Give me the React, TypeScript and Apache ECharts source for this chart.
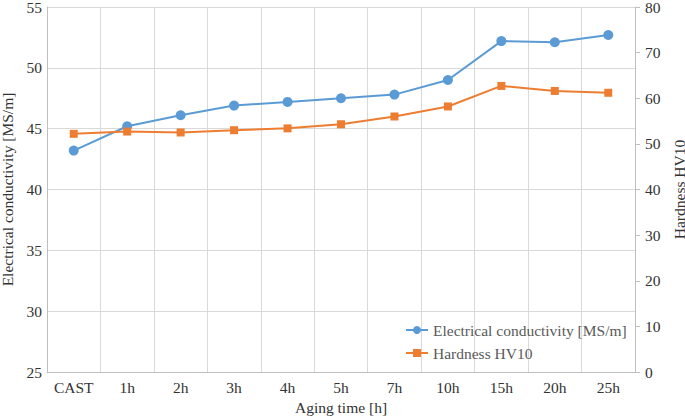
import React, { useEffect, useRef } from "react";
import * as echarts from "echarts";

const categories = ["CAST", "1h", "2h", "3h", "4h", "5h", "7h", "10h", "15h", "20h", "25h"];
const conductivity = [43.2, 45.2, 46.1, 46.9, 47.2, 47.5, 47.8, 49.0, 52.2, 52.1, 52.7];
const hardness = [52.2, 52.7, 52.5, 53.0, 53.4, 54.3, 56.0, 58.2, 62.7, 61.6, 61.2];
const condName = "Electrical conductivity [MS/m]";
const hardName = "Hardness HV10";

const FONT = "Liberation Serif";
const FS = 15.5;
const TXT = "#333333";

export default function App() {
  const ref = useRef<HTMLDivElement>(null);
  useEffect(() => {
    if (!ref.current) return;
    const chart = echarts.init(ref.current, undefined, { renderer: "svg" });
    chart.setOption({
      animation: false,
      textStyle: { fontFamily: FONT },
      grid: { left: 47, right: 50, top: 7, bottom: 46, containLabel: false, outerBoundsMode: "none" },
      legend: {
        orient: "vertical",
        left: 405,
        top: 322,
        padding: 0,
        itemGap: 7,
        itemWidth: 22,
        itemHeight: 10,
        textStyle: { fontFamily: FONT, fontSize: FS, color: "#595959", lineHeight: 16 },
        data: [condName, hardName],
      },
      xAxis: {
        type: "category",
        data: categories,
        boundaryGap: true,
        name: "Aging time [h]",
        nameLocation: "middle",
        nameGap: 27,
        nameTextStyle: { fontFamily: FONT, fontSize: FS, color: TXT },
        axisLine: { lineStyle: { color: "#bfbfbf" } },
        axisTick: { show: false },
        axisLabel: { interval: 0, fontFamily: FONT, fontSize: FS, color: TXT, margin: 7 },
        splitLine: { show: true, interval: 0, lineStyle: { color: "#d9d9d9" } },
      },
      yAxis: [
        {
          type: "value",
          min: 25,
          max: 55,
          interval: 5,
          name: condName,
          nameLocation: "middle",
          nameGap: 32,
          nameTextStyle: { fontFamily: FONT, fontSize: FS, color: TXT },
          axisLine: { show: true, lineStyle: { color: "#bfbfbf" } },
          axisTick: { show: false },
          axisLabel: { fontFamily: FONT, fontSize: FS, color: TXT, margin: 5 },
          splitLine: { show: true, lineStyle: { color: "#d9d9d9" } },
        },
        {
          type: "value",
          position: "right",
          min: 0,
          max: 80,
          interval: 10,
          name: hardName,
          nameLocation: "middle",
          nameRotate: 90,
          nameGap: 35,
          nameTextStyle: { fontFamily: FONT, fontSize: FS, color: TXT },
          axisLine: { show: true, lineStyle: { color: "#bfbfbf" } },
          axisTick: { show: true, length: 5, lineStyle: { color: "#bfbfbf" } },
          axisLabel: { fontFamily: FONT, fontSize: FS, color: TXT, margin: 10 },
          splitLine: { show: false },
        },
      ],
      series: [
        {
          name: condName,
          type: "line",
          yAxisIndex: 0,
          data: conductivity,
          symbol: "circle",
          symbolSize: 10,
          itemStyle: { color: "#5B9BD5" },
          lineStyle: { color: "#5B9BD5", width: 2 },
        },
        {
          name: hardName,
          type: "line",
          yAxisIndex: 1,
          data: hardness,
          symbol: "rect",
          symbolSize: 8,
          itemStyle: { color: "#ED7D31" },
          lineStyle: { color: "#ED7D31", width: 2 },
        },
      ],
    });
    return () => chart.dispose();
  }, []);
  return <div ref={ref} style={{ width: 685, height: 418, position: "absolute", left: 0, top: 0 }} />;
}
